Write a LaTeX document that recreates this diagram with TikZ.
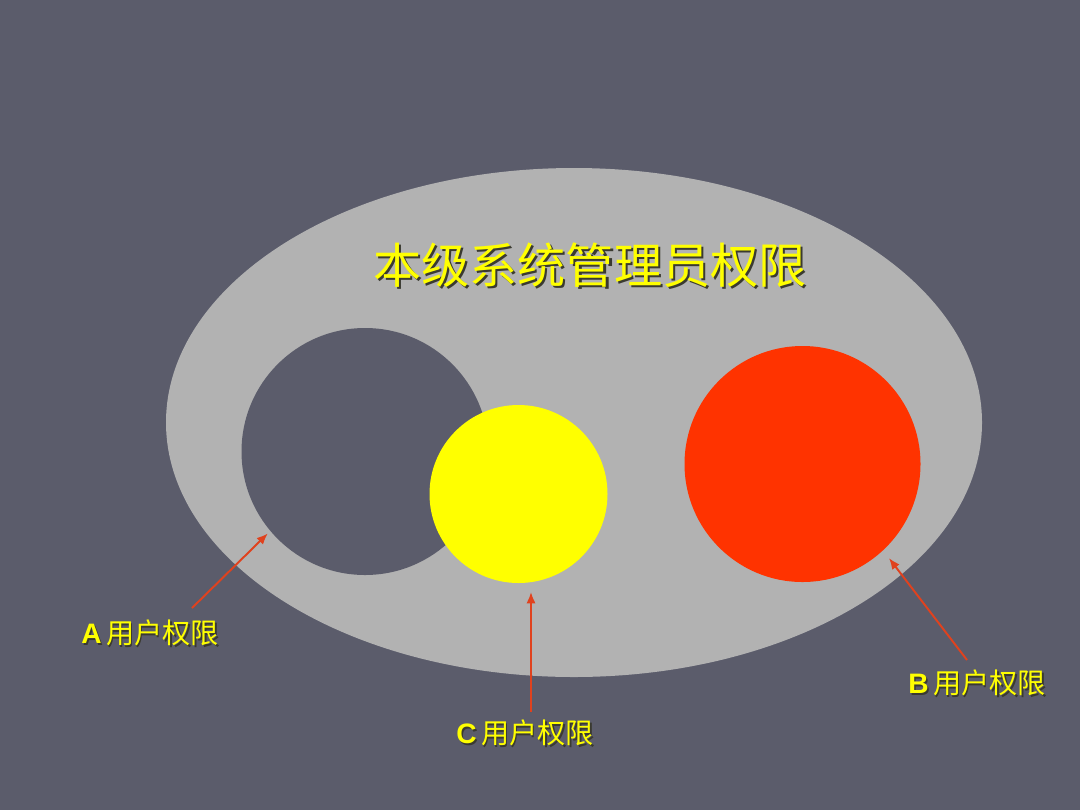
\documentclass[tikz,border=0pt]{standalone}
\usepackage{fontspec}
\setmainfont{Liberation Sans}
\newfontfamily\cjk{Noto Sans CJK SC}
\usetikzlibrary{arrows.meta}
\definecolor{slate}{HTML}{5B5C6B}
\definecolor{oval}{HTML}{B2B2B2}
\definecolor{lemon}{HTML}{FFFF00}
\definecolor{flame}{HTML}{FF3300}
\definecolor{arrowred}{HTML}{E0421E}
\definecolor{shade}{HTML}{3A3A30}
\def\shadowtext#1#2{\makebox[0pt][l]{\hspace{#1}\raisebox{-#1}{\color{shade}#2}}#2}
\tikzset{
	circ/.style={circle, inner sep=0pt, outer sep=0pt, draw=none},
	lbl/.style={text=lemon, inner sep=1pt, font=\fontsize{8}{9}\selectfont},
	arr/.style={-{Latex[length=3.2pt,width=2.6pt]}, line width=0.55pt, color=arrowred}
}

\begin{document}
\begin{tikzpicture}
			%%%%% START %%%%%
			
			\fill[slate] (0, 0) rectangle (10.8, 8.1);
			\useasboundingbox (0, 0) rectangle (10.8, 8.1);
			
			\fill[oval] (5.74, 3.875) ellipse (4.08 and 2.545);
			
			\node[circ, fill=slate, minimum size=2.47cm] (darkc) at (3.65, 3.585) {};
			\node[circ, fill=lemon, minimum size=1.78cm] (yellowc) at (5.185, 3.16) {};
			\node[circ, fill=flame, minimum size=2.36cm] (redc) at (8.025, 3.46) {};
			
			\node[text=lemon, font=\cjk\fontsize{13.7}{15}\selectfont] (title) at (5.90, 5.44) {\shadowtext{0.6pt}{本级系统管理员权限}};
			
			\node[lbl] (alabel) at (1.50, 1.76) {\shadowtext{0.45pt}{\textbf{A}\,{\cjk 用户权限}}};
			\node[lbl] (blabel) at (9.77, 1.26) {\shadowtext{0.45pt}{\textbf{B}\,{\cjk 用户权限}}};
			\node[lbl] (clabel) at (5.25, 0.76) {\shadowtext{0.45pt}{\textbf{C}\,{\cjk 用户权限}}};
			
			\coordinate (atail) at (1.92, 2.02);
			\coordinate (btail) at (9.67, 1.50);
			\coordinate (ctail) at (5.31, 0.98);
			
			\draw[arr, shorten >=1pt] (atail) -- (darkc.220);
			\draw[arr, shorten >=2.8pt] (btail) -- (redc.-47);
			\draw[arr] (ctail) -- (5.31, 2.18);
			
			%%%%% END %%%%%
		\end{tikzpicture}
\end{document}
